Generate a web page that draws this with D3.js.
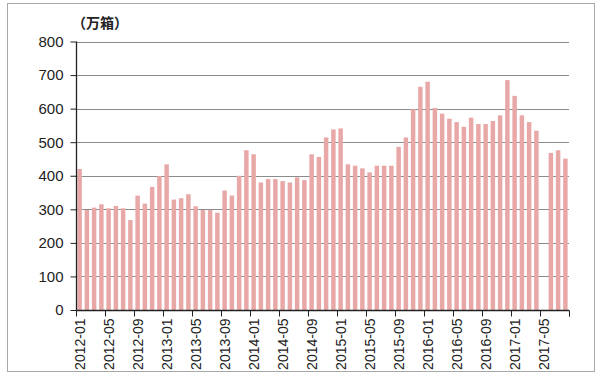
<!DOCTYPE html>
<html>
<head>
<meta charset="utf-8">
<script src="https://cdn.jsdelivr.net/npm/d3@7"></script>
<style>
  body { margin: 0; background: #fff; }
  text { font-family: "Liberation Sans", Arial, sans-serif; fill: #222; }
</style>
</head>
<body>
<script>
let w = 600;
let h = 378;

// monthly categories 2012-01 .. 2017-08
let months = [];
for (let y = 2012; y <= 2017; y++) {
  for (let m = 1; m <= 12; m++) {
    if (y === 2017 && m > 8) break;
    months.push(y + "-" + (m < 10 ? "0" + m : m));
  }
}

// 万箱
let values = [
  420, 298, 305, 315, 303, 310, 303, 268, 341, 317, 367, 399,
  434, 329, 333, 345, 309, 298, 298, 290, 356, 341, 400, 476,
  464, 380, 390, 390, 384, 380, 395, 387, 464, 456, 514, 538,
  541, 434, 430, 422, 410, 430, 430, 430, 486, 514, 598, 665,
  680, 602, 585, 570, 560, 546, 573, 554, 554, 563, 580, 685,
  638, 580, 560, 534, null, 468, 476, 451
];

let tickLabels = [
  "2012-01", "2012-05", "2012-09", "2013-01", "2013-05", "2013-09",
  "2014-01", "2014-05", "2014-09", "2015-01", "2015-05", "2015-09",
  "2016-01", "2016-05", "2016-09", "2017-01", "2017-05"
];
let yTicks = [0, 100, 200, 300, 400, 500, 600, 700, 800];

let svg = d3.select("body").append("svg").attr("width", w).attr("height", h);

// outer frame
svg.append("rect")
  .attr("x", 7.5).attr("y", 3.5)
  .attr("width", 587).attr("height", 368)
  .attr("fill", "none")
  .attr("stroke", "#a8a8a8");

let xScale = d3.scaleBand().domain(months).range([76, 569]).paddingInner(0.38).paddingOuter(0.19);
let yScale = d3.scaleLinear().domain([0, 800]).range([310, 41.5]);

// gridlines
svg.append("g")
  .selectAll("line")
  .data(yTicks.filter((d) => d > 0))
  .enter()
  .append("line")
  .attr("x1", 76)
  .attr("x2", 569)
  .attr("y1", (d) => Math.round(yScale(d)) + 0.5)
  .attr("y2", (d) => Math.round(yScale(d)) + 0.5)
  .attr("stroke", "#8c8c8c")
  .attr("stroke-width", 1.2);

// bars
svg.append("g")
  .selectAll("rect")
  .data(months.map((m, i) => ({ m: m, v: values[i] })).filter((d) => d.v != null))
  .enter()
  .append("rect")
  .attr("x", (d) => xScale(d.m))
  .attr("width", xScale.bandwidth())
  .attr("y", (d) => yScale(d.v))
  .attr("height", (d) => yScale(0) - yScale(d.v))
  .attr("fill", "#e9a8a8");

// y axis
let y_axis = d3.axisLeft(yScale).tickValues(yTicks).tickSize(6).tickPadding(7);
let gy = svg.append("g").attr("transform", "translate(76.5,0)").call(y_axis);
gy.select(".domain").attr("stroke", "#222").attr("stroke-width", 1.3).attr("d", "M0," + yScale(800) + "V" + yScale(0));
gy.selectAll(".tick line").attr("stroke", "#222");
gy.selectAll("text").style("font-size", "15px").attr("fill", "#222");

// x axis: ticks at category boundaries every 4 months, labels at band centres
let step = xScale.step();
let gx = svg.append("g").attr("transform", "translate(0," + (yScale(0) + 0.5) + ")");
gx.append("line")
  .attr("x1", 76).attr("x2", 569)
  .attr("stroke", "#222").attr("stroke-width", 1.3);
let tickIdx = d3.range(0, months.length + 1, 4).concat([months.length]);
gx.selectAll("line.tk")
  .data(tickIdx)
  .enter()
  .append("line")
  .attr("class", "tk")
  .attr("x1", (i) => 76 + i * step + 0.5)
  .attr("x2", (i) => 76 + i * step + 0.5)
  .attr("y1", 0).attr("y2", 6)
  .attr("stroke", "#222");
gx.selectAll("text")
  .data(tickLabels)
  .enter()
  .append("text")
  .attr("transform", (d) => "translate(" + (xScale(d) + xScale.bandwidth() / 2 + 5) + ",8) rotate(-90)")
  .attr("text-anchor", "end")
  .style("font-size", "14px")
  .text((d) => d);

// unit label
svg.append("text")
  .attr("x", 72)
  .attr("y", 28)
  .style("font-family", "'Noto Sans CJK SC', sans-serif")
  .style("font-size", "14px")
  .style("font-weight", "bold")
  .attr("fill", "#444")
  .text("（万箱）");
</script>
</body>
</html>
